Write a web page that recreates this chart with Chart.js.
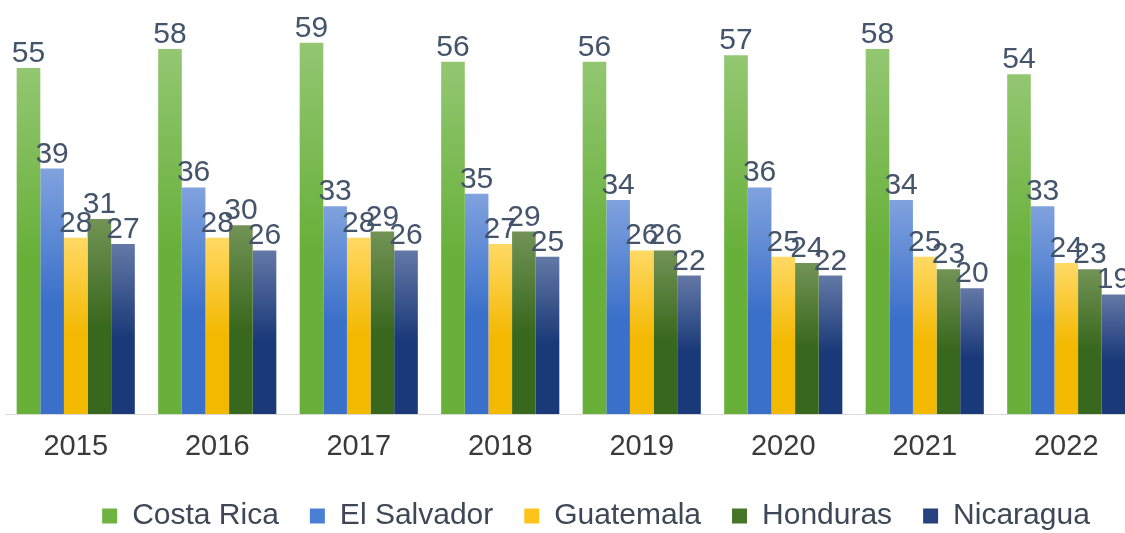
<!DOCTYPE html>
<html>
<head>
<meta charset="utf-8">
<script src="https://cdn.jsdelivr.net/npm/chart.js@4/dist/chart.umd.min.js"></script>
<style>
  html, body { margin: 0; padding: 0; background: #fff; overflow: hidden; }
  #wrap { position: absolute; left: 0; top: 0; width: 1190px; height: 545px; }
</style>
</head>
<body>
<div id="wrap"><canvas id="chart"></canvas></div>
<script>
const years = ["2015", "2016", "2017", "2018", "2019", "2020", "2021", "2022"];
const costaRica = [55, 58, 59, 56, 56, 57, 58, 54];
const elSalvador = [39, 36, 33, 35, 34, 36, 34, 33];
const guatemala = [28, 28, 28, 27, 26, 25, 25, 24];
const honduras = [31, 30, 29, 29, 26, 24, 23, 23];
const nicaragua = [27, 26, 26, 25, 22, 22, 20, 19];

// [top of bar, bottom of bar, legend swatch]
const shades = {
  costaRica: ["#93c772", "#68b03a", "#6eb240"],
  elSalvador: ["#80a2de", "#3b70ca", "#4a7fd4"],
  guatemala: ["#ffd965", "#f3b800", "#fcc419"],
  honduras: ["#729355", "#38681d", "#467528"],
  nicaragua: ["#6378a6", "#1a3978", "#26427f"],
};

const FONT = "'Liberation Sans', Arial, sans-serif";

function barFill(shade) {
  return (ctx) => {
    if (ctx.type !== "data") return shade[2];
    const { chart } = ctx;
    const y = chart.scales.y;
    if (!y) return shade[2];
    const top = y.getPixelForValue(ctx.raw);
    const bottom = y.getPixelForValue(0);
    if (!isFinite(top) || !isFinite(bottom) || top === bottom) return shade[2];
    const g = chart.ctx.createLinearGradient(0, top, 0, bottom);
    g.addColorStop(0, shade[0]);
    g.addColorStop(0.55, shade[1]);
    g.addColorStop(1, shade[1]);
    return g;
  };
}

function series(label, data, shade) {
  return {
    label,
    data,
    backgroundColor: barFill(shade),
    borderWidth: 0,
    barPercentage: 1,
    categoryPercentage: 0.835,
  };
}

// numbers above each bar
const valueLabels = {
  id: "valueLabels",
  afterDatasetsDraw(chart) {
    const { ctx } = chart;
    ctx.save();
    ctx.font = "30px " + FONT;
    ctx.fillStyle = "#44546a";
    ctx.textAlign = "center";
    ctx.textBaseline = "alphabetic";
    chart.data.datasets.forEach((ds, i) => {
      chart.getDatasetMeta(i).data.forEach((bar, j) => {
        ctx.fillText(String(ds.data[j]), bar.x, bar.y - 6);
      });
    });
    ctx.restore();
  },
};

// the legend sits a little right of the plot centre
const legendShift = {
  id: "legendShift",
  afterLayout(chart) {
    if (chart.legend) {
      chart.legend.left += 25;
      chart.legend.right += 25;
    }
  },
};

new Chart(document.getElementById("chart"), {
  type: "bar",
  data: {
    labels: years,
    datasets: [
      series("Costa Rica", costaRica, shades.costaRica),
      series("El Salvador", elSalvador, shades.elSalvador),
      series("Guatemala", guatemala, shades.guatemala),
      series("Honduras", honduras, shades.honduras),
      series("Nicaragua", nicaragua, shades.nicaragua),
    ],
  },
  options: {
    responsive: true,
    maintainAspectRatio: false,
    animation: false,
    layout: { padding: { left: 5, right: 53, top: 5, bottom: 4 } },
    plugins: {
      tooltip: { enabled: false },
      legend: {
        position: "bottom",
        labels: {
          color: "#3e4756",
          boxWidth: 15,
          boxHeight: 15,
          padding: 31,
          font: { family: FONT, size: 30 },
          generateLabels(chart) {
            const keys = Object.keys(shades);
            return chart.data.datasets.map((ds, i) => ({
              text: ds.label,
              fillStyle: shades[keys[i]][2],
              strokeStyle: shades[keys[i]][2],
              lineWidth: 0,
              fontColor: "#3e4756",
              datasetIndex: i,
            }));
          },
        },
      },
    },
    scales: {
      x: {
        grid: { display: false, drawTicks: false },
        border: { display: true, color: "#d9d9d9", width: 1 },
        ticks: {
          color: "#3a3a3a",
          padding: 16,
          font: { family: FONT, size: 29 },
        },
        afterFit(scale) { scale.height = 56; },
      },
      y: {
        display: false,
        min: 0,
        max: 65,
      },
    },
  },
  plugins: [valueLabels, legendShift],
});
</script>
</body>
</html>
